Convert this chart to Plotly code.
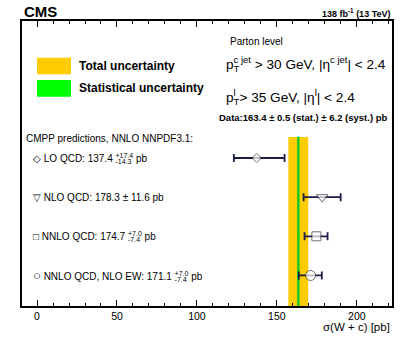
import plotly.graph_objects as go

# predictions (top to bottom)
pred_labels = ["LO QCD", "NLO QCD", "NNLO QCD", "NNLO QCD, NLO EW"]
pred_values = [137.4, 178.3, 174.7, 171.1]
pred_err_up = [17.4, 11.6, 7.0, 7.0]
pred_err_down = [14.3, 11.6, 7.4, 7.4]
pred_rows = [4, 3, 2, 1]

# measurement
data_value = 163.4
data_stat = 0.5
data_syst = 6.2
data_total = (data_stat**2 + data_syst**2) ** 0.5

x_ticks = [0, 50, 100, 150, 200]

W, H = 415, 342
L, R, T, B = 22, 23, 21, 36
FONT = "Liberation Sans, Arial, Helvetica, sans-serif"
CLEAR = "rgba(0,0,0,0)"
NAVY = "#1c1c48"


def px_x(p):
    return (p - L) / (W - L - R)


def px_y(p):
    return (H - B - p) / (H - T - B)


fig = go.Figure()

# uncertainty bands of the measurement (they stop under the text block)
band_top = px_y(137)
fig.add_shape(type="rect", xref="x", yref="paper",
              x0=data_value - data_total, x1=data_value + data_total, y0=0, y1=band_top,
              fillcolor="#ffcc00", line_width=0, layer="below")
fig.add_shape(type="rect", xref="x", yref="paper",
              x0=data_value - data_stat, x1=data_value + data_stat, y0=0, y1=band_top,
              fillcolor="#22cc22", line=dict(width=1, color="#22cc22"), layer="below")

symbols = ["diamond", "triangle-down", "square", "circle"]
sizes = [7, 10, 9, 10]
fig.add_trace(go.Scatter(
    x=pred_values, y=pred_rows, mode="markers",
    marker=dict(symbol=symbols, size=sizes, color="white",
                line=dict(color="#333333", width=1)),
    error_x=dict(type="data", symmetric=False, array=pred_err_up,
                 arrayminus=pred_err_down, color=NAVY, thickness=1.8, width=4),
    showlegend=False, hoverinfo="skip",
))

ann = []


def text(px, py, s, size=10, xanchor="left", bold=False, color="black"):
    if bold:
        s = f"<b>{s}</b>"
    ann.append(dict(x=px_x(px), y=px_y(py), xref="paper", yref="paper", text=s,
                    showarrow=False, xanchor=xanchor, yanchor="middle",
                    font=dict(family=FONT, size=size, color=color)))


def hide(s):
    return f'<span style="color:{CLEAR}">{s}</span>'


text(22, 12, "CMS", size=15, bold=True)
text(392, 13, "138 fb<sup>-1</sup> (13 TeV)", size=9, xanchor="right", bold=True)

# legend
fig.add_shape(type="rect", xref="paper", yref="paper", x0=px_x(37), x1=px_x(71),
              y0=px_y(74.3), y1=px_y(57.7), fillcolor="#ffcc00", line_width=0)
fig.add_shape(type="rect", xref="paper", yref="paper", x0=px_x(37), x1=px_x(71),
              y0=px_y(96.7), y1=px_y(80), fillcolor="#00ff00", line_width=0)
text(77, 66, "Total uncertainty", size=12, bold=True)
text(77, 88, "Statistical uncertainty", size=12, bold=True)

# phase space
text(228, 41, "Parton level", size=10)
pt1 = "p<sup>c jet</sup> > 30 GeV, |η<sup>c jet</sup>| < 2.4"
text(224, 64, pt1 + hide("<sub>T</sub>"), size=13.6)
text(224, 64, hide("p") + "<sub>T</sub>" + hide("<sup>c jet</sup>"), size=13.6)
pt2 = "p<sup>l</sup> > 35 GeV, |η<sup>l</sup>| < 2.4"
text(224, 97, pt2 + hide("<sub>T</sub>"), size=13.6)
text(224, 97, hide("p") + "<sub>T</sub>" + hide("<sup>l</sup>"), size=13.6)
text(389, 117, f"Data:{data_value} ± {data_stat} (stat.) ± {data_syst} (syst.) pb",
     size=9.5, xanchor="right", bold=True)

text(24, 138, "CMPP predictions, NNLO NNPDF3.1:", size=10)

marks = ["◇", "▽", "□", '<span style="font-size:13px">○</span>']
for lab, mk, v, up, dn, row in zip(pred_labels, marks, pred_values,
                                   pred_err_up, pred_err_down, pred_rows):
    main = f"{mk} {lab}: {v}"
    base = dict(x=px_x(31), y=row, xref="paper", yref="y", showarrow=False,
                xanchor="left", yanchor="middle",
                font=dict(family=FONT, size=10, color="black"))
    if up == dn:
        ann.append(dict(base, text=f"{main} ± {up} pb"))
    else:
        ann.append(dict(base, text=f"{main} <sup>+{up}</sup> pb" + hide("<sub>-</sub>")))
        ann.append(dict(base, text=hide(f"{main} ") + f"<sub>-{dn}</sub>" + hide("<sup>+</sup>")))

text(392, 327, "σ(W + c) [pb]", size=11.5, xanchor="right")

axis_line = dict(showline=True, linecolor="black", linewidth=1.5, mirror=True)
fig.update_layout(
    width=W, height=H,
    margin=dict(l=L, r=R, t=T, b=B),
    paper_bgcolor="white", plot_bgcolor="white",
    font=dict(family=FONT, size=10, color="black"),
    showlegend=False,
    annotations=ann,
    xaxis=dict(range=[-9.4, 222], tickvals=x_ticks, ticks="inside", ticklen=6,
               tickcolor="black", tickwidth=1, showgrid=False, zeroline=False,
               minor=dict(dtick=10, ticks="inside", ticklen=3, tickcolor="black"),
               tickfont=dict(size=10.5), **dict(axis_line, mirror="allticks")),
    yaxis=dict(range=[0.22, 7.5], showticklabels=False, ticks="", showgrid=False,
               zeroline=False, **axis_line),
)

# drop the browser's default body margin so the figure sits at (0, 0)
fig.write_html("out.html", config={"displayModeBar": False},
               post_script="document.body.style.margin = '0';")
